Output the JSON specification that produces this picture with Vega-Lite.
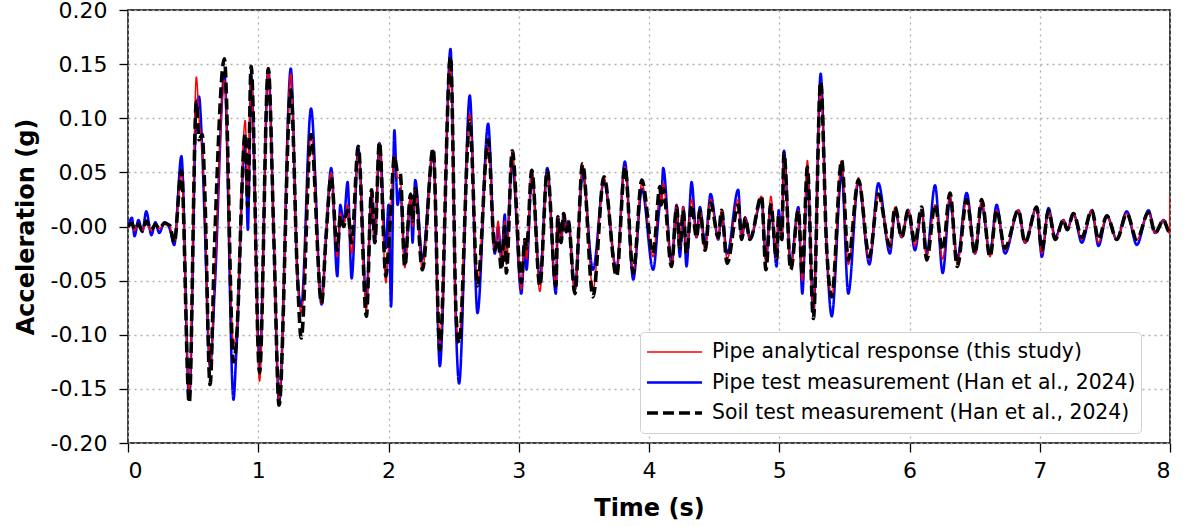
{
  "$schema": "https://vega.github.io/schema/vega-lite/v6.json",
  "autosize": "none",
  "width": 1042,
  "height": 433,
  "padding": {"left": 128, "top": 10, "right": 19, "bottom": 83},
  "background": "white",
  "config": {
    "font": "DejaVu Sans",
    "view": {"stroke": "black", "strokeWidth": 1.5},
    "axis": {
      "labelFont": "DejaVu Sans", "labelFontSize": 22, "labelColor": "black",
      "titleFont": "DejaVu Sans", "titleFontSize": 24, "titleFontWeight": "bold", "titleColor": "black",
      "tickColor": "black", "tickSize": 9, "tickWidth": 1.3,
      "domain": false,
      "grid": true, "gridColor": "#b0b0b0", "gridDash": [2, 4], "gridWidth": 1.3
    },
    "legend": {
      "orient": "none", "legendX": 512, "legendY": 322,
      "fillColor": "white", "strokeColor": "#d0d0d0", "cornerRadius": 4, "padding": 5,
      "symbolType": "stroke", "symbolSize": 3025, "clipHeight": 30,
      "labelFont": "DejaVu Sans", "labelFontSize": 20.4, "labelColor": "black", "labelOffset": 8,
      "rowPadding": 0.5, "labelLimit": 600
    }
  },
  "data": {"values": [
    {"t":0.00,"a":0,"b":0,"c":0},
    {"t":0.03,"a":0.004,"b":0.008,"c":0.003},
    {"t":0.05,"a":-0.004,"b":-0.009,"c":-0.003},
    {"t":0.08,"a":0.003,"b":0.006,"c":0.002},
    {"t":0.11,"a":-0.004,"b":-0.005,"c":-0.004},
    {"t":0.14,"a":0.004,"b":0.014,"c":0.005},
    {"t":0.18,"a":-0.004,"b":-0.008,"c":-0.003},
    {"t":0.21,"a":0.002,"b":0.004,"c":0.002},
    {"t":0.24,"a":-0.002,"b":-0.006,"c":-0.002},
    {"t":0.28,"a":0.002,"b":0.004,"c":0.003},
    {"t":0.32,"a":0.0,"b":-0.002,"c":0.001},
    {"t":0.355,"a":-0.014,"b":-0.017,"c":-0.015},
    {"t":0.41,"a":0.05,"b":0.065,"c":0.052},
    {"t":0.47,"a":-0.154,"b":-0.16,"c":-0.163},
    {"t":0.525,"a":0.138,"b":0.11,"c":0.115},
    {"t":0.545,"a":0.1,"b":0.12,"c":0.08},
    {"t":0.57,"a":0.07,"b":0.07,"c":0.085},
    {"t":0.59,"a":0.02,"b":0.0,"c":0.03},
    {"t":0.63,"a":-0.13,"b":-0.13,"c":-0.146},
    {"t":0.665,"a":-0.05,"b":-0.06,"c":-0.015},
    {"t":0.74,"a":0.135,"b":0.14,"c":0.155},
    {"t":0.81,"a":-0.108,"b":-0.16,"c":-0.125},
    {"t":0.83,"a":-0.1,"b":-0.12,"c":-0.11},
    {"t":0.9,"a":0.098,"b":0.08,"c":0.086},
    {"t":0.92,"a":0.03,"b":-0.003,"c":0.018},
    {"t":0.945,"a":0.14,"b":0.14,"c":0.148},
    {"t":1.01,"a":-0.143,"b":-0.13,"c":-0.135},
    {"t":1.077,"a":0.145,"b":0.146,"c":0.146},
    {"t":1.12,"a":-0.012,"b":-0.012,"c":-0.012},
    {"t":1.16,"a":-0.16,"b":-0.163,"c":-0.165},
    {"t":1.25,"a":0.141,"b":0.146,"c":0.126},
    {"t":1.30,"a":-0.043,"b":-0.043,"c":-0.043},
    {"t":1.33,"a":-0.08,"b":-0.074,"c":-0.103},
    {"t":1.405,"a":0.085,"b":0.109,"c":0.085},
    {"t":1.486,"a":-0.071,"b":-0.072,"c":-0.071},
    {"t":1.52,"a":-0.01,"b":-0.01,"c":-0.01},
    {"t":1.56,"a":0.05,"b":0.054,"c":0.046},
    {"t":1.607,"a":-0.028,"b":-0.046,"c":-0.022},
    {"t":1.63,"a":0.012,"b":0.02,"c":0.01},
    {"t":1.655,"a":0.002,"b":0.003,"c":0.0},
    {"t":1.686,"a":0.02,"b":0.041,"c":0.015},
    {"t":1.717,"a":-0.025,"b":-0.048,"c":-0.015},
    {"t":1.768,"a":0.068,"b":0.072,"c":0.074},
    {"t":1.83,"a":-0.078,"b":-0.068,"c":-0.083},
    {"t":1.87,"a":0.034,"b":0.03,"c":0.034},
    {"t":1.895,"a":-0.015,"b":-0.015,"c":-0.015},
    {"t":1.93,"a":0.077,"b":0.077,"c":0.078},
    {"t":1.98,"a":-0.052,"b":-0.02,"c":-0.046},
    {"t":2.00,"a":-0.02,"b":0.02,"c":-0.02},
    {"t":2.02,"a":0.02,"b":-0.074,"c":0.02},
    {"t":2.045,"a":0.065,"b":0.089,"c":0.065},
    {"t":2.07,"a":0.045,"b":0.02,"c":0.05},
    {"t":2.09,"a":0.045,"b":0.035,"c":0.049},
    {"t":2.125,"a":-0.038,"b":-0.03,"c":-0.037},
    {"t":2.17,"a":0.028,"b":0.025,"c":0.03},
    {"t":2.185,"a":0.0,"b":-0.015,"c":0.005},
    {"t":2.205,"a":0.035,"b":0.043,"c":0.035},
    {"t":2.26,"a":-0.04,"b":-0.03,"c":-0.04},
    {"t":2.343,"a":0.07,"b":0.07,"c":0.072},
    {"t":2.394,"a":-0.108,"b":-0.129,"c":-0.114},
    {"t":2.476,"a":0.151,"b":0.164,"c":0.157},
    {"t":2.52,"a":-0.09,"b":-0.1,"c":-0.085},
    {"t":2.542,"a":-0.102,"b":-0.145,"c":-0.108},
    {"t":2.624,"a":0.104,"b":0.121,"c":0.098},
    {"t":2.683,"a":-0.052,"b":-0.08,"c":-0.055},
    {"t":2.765,"a":0.074,"b":0.095,"c":0.08},
    {"t":2.816,"a":-0.022,"b":-0.025,"c":-0.022},
    {"t":2.842,"a":0.005,"b":0.0,"c":-0.012},
    {"t":2.867,"a":-0.035,"b":-0.03,"c":-0.04},
    {"t":2.893,"a":0.005,"b":0.011,"c":0.0},
    {"t":2.905,"a":-0.035,"b":-0.02,"c":-0.043},
    {"t":2.95,"a":0.07,"b":0.06,"c":0.07},
    {"t":3.02,"a":-0.058,"b":-0.062,"c":-0.052},
    {"t":3.047,"a":-0.012,"b":-0.012,"c":-0.012},
    {"t":3.06,"a":-0.03,"b":-0.04,"c":-0.02},
    {"t":3.10,"a":0.052,"b":0.05,"c":0.052},
    {"t":3.162,"a":-0.06,"b":-0.05,"c":-0.055},
    {"t":3.219,"a":0.05,"b":0.054,"c":0.052},
    {"t":3.285,"a":-0.055,"b":-0.062,"c":-0.055},
    {"t":3.30,"a":0.009,"b":0.009,"c":0.009},
    {"t":3.325,"a":-0.015,"b":-0.015,"c":-0.015},
    {"t":3.345,"a":0.012,"b":0.012,"c":0.012},
    {"t":3.365,"a":-0.005,"b":-0.005,"c":-0.005},
    {"t":3.38,"a":0.005,"b":0.005,"c":0.005},
    {"t":3.431,"a":-0.06,"b":-0.058,"c":-0.062},
    {"t":3.49,"a":0.057,"b":0.05,"c":0.058},
    {"t":3.57,"a":-0.058,"b":-0.04,"c":-0.065},
    {"t":3.654,"a":0.045,"b":0.042,"c":0.046},
    {"t":3.751,"a":-0.042,"b":-0.04,"c":-0.046},
    {"t":3.815,"a":0.055,"b":0.06,"c":0.055},
    {"t":3.879,"a":-0.04,"b":-0.049,"c":-0.043},
    {"t":3.945,"a":0.04,"b":0.035,"c":0.043},
    {"t":4.032,"a":-0.028,"b":-0.04,"c":-0.025},
    {"t":4.084,"a":0.03,"b":0.02,"c":0.037},
    {"t":4.095,"a":0.02,"b":0.025,"c":0.02},
    {"t":4.109,"a":0.04,"b":0.054,"c":0.035},
    {"t":4.173,"a":-0.035,"b":-0.035,"c":-0.037},
    {"t":4.212,"a":0.02,"b":0.02,"c":0.018},
    {"t":4.237,"a":-0.02,"b":-0.028,"c":-0.02},
    {"t":4.263,"a":0.018,"b":0.018,"c":0.015},
    {"t":4.288,"a":-0.025,"b":-0.037,"c":-0.025},
    {"t":4.327,"a":0.025,"b":0.041,"c":0.02},
    {"t":4.365,"a":-0.01,"b":-0.01,"c":-0.01},
    {"t":4.391,"a":0.015,"b":0.018,"c":0.015},
    {"t":4.43,"a":-0.022,"b":-0.018,"c":-0.022},
    {"t":4.473,"a":0.025,"b":0.03,"c":0.022},
    {"t":4.532,"a":-0.012,"b":-0.012,"c":-0.01},
    {"t":4.557,"a":0.015,"b":0.012,"c":0.015},
    {"t":4.6,"a":-0.03,"b":-0.025,"c":-0.034},
    {"t":4.685,"a":0.025,"b":0.034,"c":0.02},
    {"t":4.711,"a":-0.012,"b":-0.012,"c":-0.012},
    {"t":4.74,"a":0.008,"b":0.008,"c":0.008},
    {"t":4.775,"a":-0.012,"b":-0.012,"c":-0.012},
    {"t":4.864,"a":0.028,"b":0.025,"c":0.028},
    {"t":4.898,"a":-0.035,"b":-0.03,"c":-0.04},
    {"t":4.935,"a":0.028,"b":0.02,"c":0.02},
    {"t":4.98,"a":-0.03,"b":-0.037,"c":-0.03},
    {"t":4.995,"a":0.01,"b":0.015,"c":0.01},
    {"t":5.02,"a":-0.012,"b":-0.012,"c":-0.012},
    {"t":5.036,"a":0.065,"b":0.07,"c":0.068},
    {"t":5.088,"a":-0.038,"b":-0.035,"c":-0.04},
    {"t":5.147,"a":0.015,"b":0.018,"c":0.015},
    {"t":5.177,"a":-0.05,"b":-0.062,"c":-0.045},
    {"t":5.216,"a":0.061,"b":0.05,"c":0.055},
    {"t":5.262,"a":-0.08,"b":-0.08,"c":-0.085},
    {"t":5.318,"a":0.129,"b":0.141,"c":0.134},
    {"t":5.364,"a":-0.02,"b":-0.02,"c":-0.02},
    {"t":5.403,"a":-0.065,"b":-0.083,"c":-0.065},
    {"t":5.479,"a":0.061,"b":0.05,"c":0.061},
    {"t":5.53,"a":-0.035,"b":-0.062,"c":-0.031},
    {"t":5.608,"a":0.045,"b":0.043,"c":0.043},
    {"t":5.692,"a":-0.03,"b":-0.035,"c":-0.028},
    {"t":5.761,"a":0.03,"b":0.04,"c":0.03},
    {"t":5.85,"a":-0.02,"b":-0.025,"c":-0.018},
    {"t":5.889,"a":0.018,"b":0.015,"c":0.018},
    {"t":5.94,"a":-0.01,"b":-0.01,"c":-0.01},
    {"t":5.99,"a":0.015,"b":0.015,"c":0.015},
    {"t":6.042,"a":-0.018,"b":-0.022,"c":-0.015},
    {"t":6.093,"a":0.015,"b":0.015,"c":0.018},
    {"t":6.132,"a":-0.028,"b":-0.025,"c":-0.031},
    {"t":6.196,"a":0.02,"b":0.038,"c":0.02},
    {"t":6.255,"a":-0.03,"b":-0.043,"c":-0.022},
    {"t":6.311,"a":0.03,"b":0.025,"c":0.031},
    {"t":6.367,"a":-0.035,"b":-0.03,"c":-0.037},
    {"t":6.439,"a":0.025,"b":0.031,"c":0.025},
    {"t":6.503,"a":-0.025,"b":-0.025,"c":-0.025},
    {"t":6.554,"a":0.025,"b":0.02,"c":0.025},
    {"t":6.618,"a":-0.028,"b":-0.025,"c":-0.028},
    {"t":6.669,"a":0.015,"b":0.02,"c":0.015},
    {"t":6.733,"a":-0.022,"b":-0.025,"c":-0.02},
    {"t":6.836,"a":0.015,"b":0.015,"c":0.015},
    {"t":6.887,"a":-0.015,"b":-0.015,"c":-0.015},
    {"t":6.977,"a":0.018,"b":0.018,"c":0.018},
    {"t":7.016,"a":-0.025,"b":-0.028,"c":-0.022},
    {"t":7.067,"a":0.015,"b":0.017,"c":0.015},
    {"t":7.118,"a":-0.012,"b":-0.01,"c":-0.012},
    {"t":7.182,"a":0.006,"b":0.006,"c":0.006},
    {"t":7.21,"a":-0.003,"b":-0.003,"c":-0.003},
    {"t":7.259,"a":0.012,"b":0.012,"c":0.012},
    {"t":7.323,"a":-0.012,"b":-0.015,"c":-0.01},
    {"t":7.4,"a":0.015,"b":0.015,"c":0.015},
    {"t":7.451,"a":-0.015,"b":-0.018,"c":-0.012},
    {"t":7.515,"a":0.01,"b":0.01,"c":0.01},
    {"t":7.592,"a":-0.012,"b":-0.012,"c":-0.012},
    {"t":7.668,"a":0.012,"b":0.014,"c":0.012},
    {"t":7.745,"a":-0.012,"b":-0.017,"c":-0.012},
    {"t":7.835,"a":0.012,"b":0.015,"c":0.013},
    {"t":7.886,"a":-0.006,"b":-0.006,"c":-0.006},
    {"t":7.95,"a":0.006,"b":0.006,"c":0.006},
    {"t":7.995,"a":-0.006,"b":-0.005,"c":-0.005},
    {"t":8.0,"a":0.029,"b":-0.005,"c":-0.005}
  ]},
  "transform": [{"fold": ["b", "a", "c"], "as": ["s", "v"]}],
  "encoding": {
    "x": {"field": "t", "type": "quantitative", "scale": {"domain": [0, 8], "nice": false},
      "axis": {"values": [0,1,2,3,4,5,6,7,8], "format": "d", "title": "Time (s)", "labelPadding": 8, "titlePadding": 15}},
    "y": {"field": "v", "type": "quantitative", "scale": {"domain": [-0.2, 0.2], "nice": false},
      "axis": {"values": [-0.2,-0.15,-0.1,-0.05,0,0.05,0.1,0.15,0.2], "labelExpr": "datum.value == 0 ? '-0.00' : replace(format(datum.value, '.2f'), '\u2212', '-')", "title": "Acceleration (g)", "labelPadding": 12, "titlePadding": 12}},
    "color": {"field": "s", "type": "nominal", "title": null,
      "scale": {"domain": ["a", "b", "c"], "range": ["#ff0000", "#0000ff", "#000000"]},
      "legend": {"labelExpr": "datum.label == 'a' ? 'Pipe analytical response (this study)' : datum.label == 'b' ? 'Pipe test measurement (Han et al., 2024)' : 'Soil test measurement (Han et al., 2024)'"}},
    "strokeWidth": {"field": "s", "type": "nominal", "title": null,
      "scale": {"domain": ["a", "b", "c"], "range": [1.5, 3.6, 3]},
      "legend": {"labelExpr": "datum.label == 'a' ? 'Pipe analytical response (this study)' : datum.label == 'b' ? 'Pipe test measurement (Han et al., 2024)' : 'Soil test measurement (Han et al., 2024)'"}},
    "strokeDash": {"field": "s", "type": "nominal", "title": null,
      "scale": {"domain": ["a", "b", "c"], "range": [[1, 0], [1, 0], [11, 5]]},
      "legend": {"labelExpr": "datum.label == 'a' ? 'Pipe analytical response (this study)' : datum.label == 'b' ? 'Pipe test measurement (Han et al., 2024)' : 'Soil test measurement (Han et al., 2024)'"}}
  },
  "layer": [
    {"transform": [{"filter": "datum.s == 'b'"}], "mark": {"type": "line", "interpolate": "monotone", "clip": true}},
    {"transform": [{"filter": "datum.s == 'a'"}], "mark": {"type": "line", "interpolate": "monotone", "clip": true}},
    {"transform": [{"filter": "datum.s == 'c'"}], "mark": {"type": "line", "interpolate": "monotone", "clip": true}}
  ]
}
